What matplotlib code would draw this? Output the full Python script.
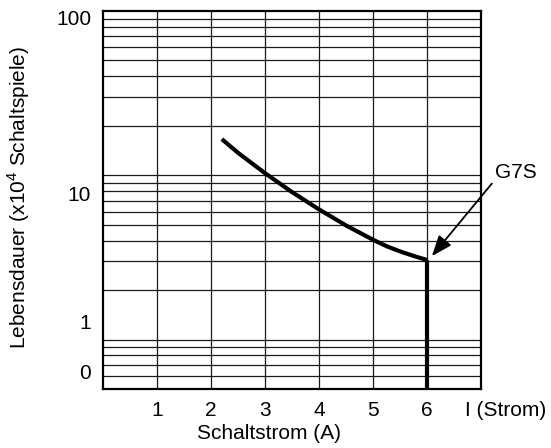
import numpy as np
import matplotlib
matplotlib.use('Agg')
import matplotlib.pyplot as plt
from matplotlib.ticker import NullFormatter, FixedLocator

plt.rcParams['font.family'] = ['Liberation Sans', 'DejaVu Sans']
plt.rcParams['mathtext.fontset'] = 'custom'
plt.rcParams['mathtext.rm'] = 'Liberation Sans'

# Lebensdauer-Kurve G7S
strom = [2.2, 2.5, 3.0, 3.5, 4.0, 4.5, 5.0, 5.25, 5.5, 5.75, 6.0]
lebensdauer = [16.6, 13.7, 10.3, 7.9, 6.2, 4.95, 4.05, 3.7, 3.44, 3.23, 3.05]
grenz_strom = 6.0
x_ticks = [1, 2, 3, 4, 5, 6]
x_labels = ['1', '2', '3', '4', '5', '6']
# Beschriftung der y-Achse (Positionen wie im Original)
y_label_pos = [90.7, 7.7, 1.28, 0.635]
y_labels = ['100', '10', '1', '0']
y_grid = [0.6, 0.7, 0.8, 0.9, 1, 2, 3, 4, 5, 6, 7, 8, 9, 10,
          20, 30, 40, 50, 60, 70, 80, 90]

fs = 15

fig = plt.figure(figsize=(5.51, 4.48), dpi=100)
ax = fig.add_axes([0.187, 0.1317, 0.686, 0.8437])
ax.set_yscale('log')
ax.set_xlim(0, 7)
ax.set_ylim(0.5, 100)

ax.yaxis.set_major_locator(FixedLocator(y_label_pos))
ax.set_yticklabels(y_labels)
ax.yaxis.set_minor_locator(FixedLocator(y_grid))
ax.yaxis.set_minor_formatter(NullFormatter())
ax.set_xticks(x_ticks)
ax.set_xticklabels(x_labels)
ax.xaxis.set_minor_locator(FixedLocator([]))

ax.tick_params(which='both', length=0, labelsize=fs)
ax.tick_params(axis='x', pad=8.5)
ax.tick_params(axis='y', pad=8.5)

ax.yaxis.grid(True, which='minor', color='#1a1a1a', lw=0.9)
ax.yaxis.grid(False, which='major')
ax.xaxis.grid(True, which='major', color='#1a1a1a', lw=0.9)
ax.set_axisbelow(True)
for s in ax.spines.values():
    s.set_linewidth(1.6)
    s.set_color('black')

ax.plot(strom, lebensdauer, color='black', lw=3, solid_capstyle='butt',
        solid_joinstyle='round', zorder=3)
ax.plot([grenz_strom, grenz_strom], [lebensdauer[-1], 0.5], color='black', lw=3,
        solid_capstyle='butt', zorder=3)

ax.annotate('', xy=(6.09, 3.22), xytext=(7.2, 8.9), annotation_clip=False,
            arrowprops=dict(arrowstyle='-|>,head_length=0.9,head_width=0.35',
                            color='black', lw=1.3, mutation_scale=14,
                            shrinkA=0, shrinkB=0))
ax.text(7.65, 10.47, 'G7S', fontsize=fs, ha='center', va='center', clip_on=False)
ax.text(6.7, -0.056, 'I (Strom)', fontsize=fs, ha='left', va='center',
        transform=ax.get_xaxis_transform(), clip_on=False)

fig.text(269 / 551, 1 - 433 / 448, 'Schaltstrom (A)', fontsize=fs,
         ha='center', va='center')
fig.text(19 / 551, 1 - 197 / 448, 'Lebensdauer (x10$^{\\mathrm{4}}$ Schaltspiele)',
         fontsize=fs, ha='center', va='center', rotation=90)

fig.savefig('out.png', dpi=100)
